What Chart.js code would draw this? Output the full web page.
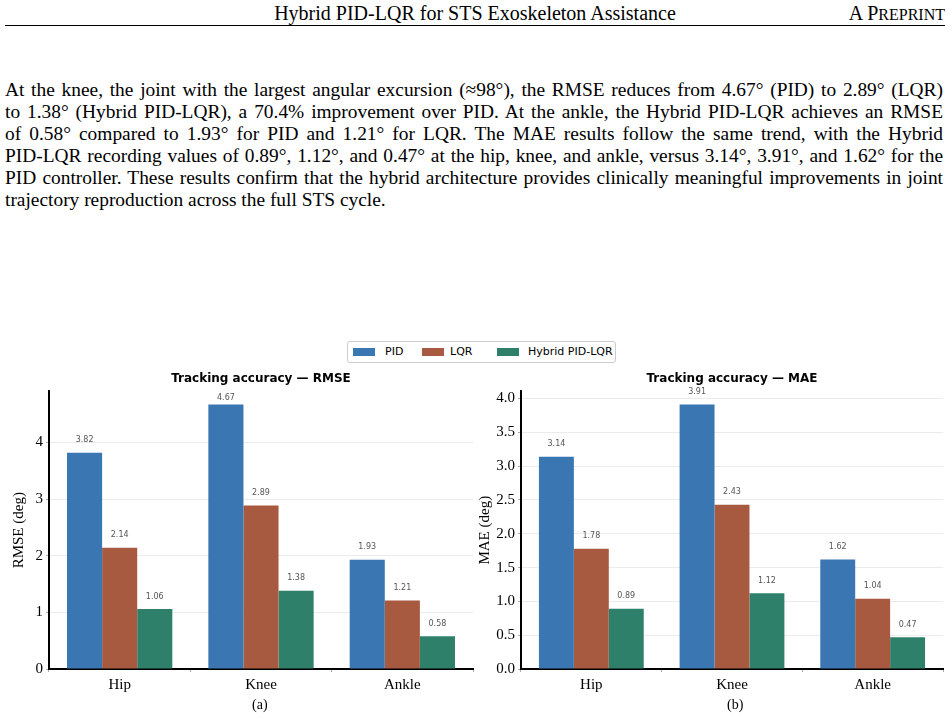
<!DOCTYPE html>
<html>
<head>
<meta charset="utf-8">
<script src="https://cdn.jsdelivr.net/npm/chart.js@4"></script>
<style>
  body { margin:0; background:#fff; width:950px; height:719px; position:relative; overflow:hidden; }
  .serif { font-family:"Liberation Serif","Times New Roman",serif; color:#000; }
  #head { position:absolute; left:0; top:2px; width:950px; font-size:20px; line-height:22px; text-align:center; }
  #pre { position:absolute; right:5px; top:2px; font-size:20px; line-height:22px; }
  #pre span { font-size:16px; }
  #rule { position:absolute; left:5px; top:25px; width:940px; height:1px; background:#000; }
  #para { position:absolute; left:5px; top:79px; width:938px; font-size:19.4px; line-height:22px; }
  #para div { text-align:justify; text-align-last:justify; white-space:nowrap; }
  #para div.last { text-align-last:left; }
  #legend { position:absolute; left:347px; top:341px; width:267px; height:20px; border:1px solid #ccc; border-radius:3px;
            font-family:"DejaVu Sans",sans-serif; font-size:11px; color:#000; }
  .sw { position:absolute; top:6px; width:22px; height:8px; }
  .lt { position:absolute; top:3px; }
  canvas { position:absolute; }
  .cap { position:absolute; top:697px; font-size:14px; }
</style>
</head>
<body>
<div id="head" class="serif">Hybrid PID-LQR for STS Exoskeleton Assistance</div>
<div id="pre" class="serif">A P<span>REPRINT</span></div>
<div id="rule"></div>
<div id="para" class="serif">
  <div>At the knee, the joint with the largest angular excursion (≈98°), the RMSE reduces from 4.67° (PID) to 2.89° (LQR)</div>
  <div>to 1.38° (Hybrid PID-LQR), a 70.4% improvement over PID. At the ankle, the Hybrid PID-LQR achieves an RMSE</div>
  <div>of 0.58° compared to 1.93° for PID and 1.21° for LQR. The MAE results follow the same trend, with the Hybrid</div>
  <div>PID-LQR recording values of 0.89°, 1.12°, and 0.47° at the hip, knee, and ankle, versus 3.14°, 3.91°, and 1.62° for the</div>
  <div>PID controller. These results confirm that the hybrid architecture provides clinically meaningful improvements in joint</div>
  <div class="last">trajectory reproduction across the full STS cycle.</div>
</div>
<div id="legend"></div>
<canvas id="rmseChart" style="left:0;top:370px;width:476px;height:330px" width="476" height="330"></canvas>
<canvas id="maeChart" style="left:470px;top:370px;width:480px;height:330px" width="480" height="330"></canvas>
<div class="cap serif" style="left:252px">(a)</div>
<div class="cap serif" style="left:727px">(b)</div>
<script>
'use strict';

const joints = ['Hip', 'Knee', 'Ankle'];
const seriesNames = ['PID', 'LQR', 'Hybrid PID-LQR'];
const seriesColors = ['#3a76b2', '#a75a40', '#2f806a'];

const rmsePID    = [3.82, 4.67, 1.93];
const rmseLQR    = [2.14, 2.89, 1.21];
const rmseHybrid = [1.06, 1.38, 0.58];

const maePID    = [3.14, 3.91, 1.62];
const maeLQR    = [1.78, 2.43, 1.04];
const maeHybrid = [0.89, 1.12, 0.47];

const rmseTicks = [0, 1, 2, 3, 4];
const maeTicks  = [0, 0.5, 1.0, 1.5, 2.0, 2.5, 3.0, 3.5, 4.0];

const SERIF = '"Liberation Serif", "Times New Roman", serif';
const SANS  = '"DejaVu Sans", sans-serif';

// legend (html)
const legendEl = document.getElementById('legend');
const swX = [5, 74, 149], txX = [37, 102, 180];
seriesNames.forEach((name, i) => {
  legendEl.innerHTML += `<div class="sw" style="left:${swX[i]}px;background:${seriesColors[i]}"></div>
    <div class="lt" style="left:${txX[i]}px">${name}</div>`;
});

// value labels above bars
const valueLabels = {
  id: 'valueLabels',
  afterDatasetsDraw(chart, args, opts) {
    const ctx = chart.ctx;
    ctx.save();
    ctx.font = '8px ' + SANS;
    ctx.fillStyle = '#555';
    ctx.textAlign = 'center';
    ctx.textBaseline = 'middle';
    chart.data.datasets.forEach((ds, di) => {
      chart.getDatasetMeta(di).data.forEach((bar, i) => {
        let y = bar.y - 12.5;
        if (opts.clampTop != null) y = Math.max(y, chart.chartArea.top + opts.clampTop);
        ctx.fillText(ds.data[i].toFixed(2), bar.x, y);
      });
    });
    ctx.restore();
  }
};

function makeChart(id, title, yTitle, data, ticks, yMax, fmt, yWidth, titlePad, padRight, clampTop) {
  return new Chart(document.getElementById(id), {
    type: 'bar',
    data: {
      labels: joints,
      datasets: data.map((d, i) => ({
        label: seriesNames[i],
        data: d,
        backgroundColor: seriesColors[i],
        borderWidth: 0,
        barPercentage: 1.0,
        categoryPercentage: 0.745,
      }))
    },
    options: {
      responsive: false, animation: false,
      layout: { padding: { left: 0, right: padRight, top: 0, bottom: 0 } },
      plugins: {
        legend: { display: false },
        tooltip: { enabled: false },
        title: {
          display: true, text: title, fullSize: false, color: '#000',
          font: { family: SANS, size: 12, weight: 'bold' },
          padding: { top: 2, bottom: 5 }
        },
        valueLabels: { clampTop }
      },
      scales: {
        x: {
          grid: { display: true, drawOnChartArea: false, drawTicks: true, tickLength: 3, tickColor: '#aaa', color: 'rgba(0,0,0,0)' },
          border: { display: true, color: '#000', width: 2 },
          ticks: { color: '#000', font: { family: SERIF, size: 15 }, padding: 4 },
          afterFit: s => { s.height = 31; }
        },
        y: {
          min: 0, max: yMax,
          afterBuildTicks: s => { s.ticks = ticks.map(v => ({ value: v })); },
          grid: { color: c => c.tick && c.tick.value === 0 ? 'rgba(0,0,0,0)' : '#ebebeb', lineWidth: 1,
                  drawTicks: true, tickLength: 3, tickColor: '#aaa' },
          border: { display: true, color: '#000', width: 2 },
          ticks: { color: '#000', font: { family: SERIF, size: 15 }, padding: 3, callback: v => fmt(v) },
          title: { display: true, text: yTitle, color: '#000', font: { family: SERIF, size: 15 }, padding: { top: titlePad, bottom: 0 } },
          afterFit: s => { s.width = yWidth; }
        }
      }
    },
    plugins: [valueLabels]
  });
}

makeChart('rmseChart', 'Tracking accuracy — RMSE', 'RMSE (deg)',
  [rmsePID, rmseLQR, rmseHybrid], rmseTicks, 4.9035, v => String(v), 49, 10, 3, 7);
makeChart('maeChart', 'Tracking accuracy — MAE', 'MAE (deg)',
  [maePID, maeLQR, maeHybrid], maeTicks, 4.1055, v => v.toFixed(1), 51, 6, 7, null);
</script>
</body>
</html>
